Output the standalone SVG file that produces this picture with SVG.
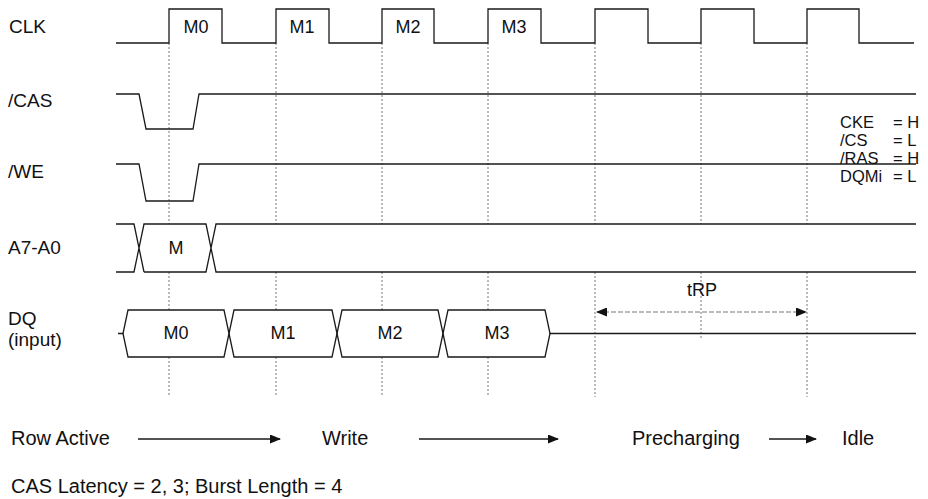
<svg xmlns="http://www.w3.org/2000/svg" width="928" height="499" viewBox="0 0 928 499">
<style>
text{font-family:"Liberation Sans",Arial,Helvetica,sans-serif;fill:#111;}
.lbl{font-size:19px;}
.in{font-size:18px;text-anchor:middle;}
.cond{font-size:16.5px;}
.bot{font-size:20px;}
.w{fill:none;stroke:#1a1a1a;stroke-width:1.3;stroke-linejoin:miter;}
.g{fill:none;stroke:#777;stroke-width:1;stroke-dasharray:2,2;}
.arr{fill:none;stroke:#1a1a1a;stroke-width:1.6;}
.tarr{fill:none;stroke:#777;stroke-width:1.2;stroke-dasharray:5,2;}
</style>
<defs>
<marker id="ah" markerWidth="11" markerHeight="9" refX="10" refY="4.5" orient="auto" markerUnits="userSpaceOnUse">
<path d="M0,0 L11,4.5 L0,9 Z" fill="#111"/>
</marker>
<marker id="ahs" markerWidth="11" markerHeight="9" refX="1" refY="4.5" orient="auto" markerUnits="userSpaceOnUse">
<path d="M11,0 L0,4.5 L11,9 Z" fill="#111"/>
</marker>
</defs>
<rect width="928" height="499" fill="#fff"/>

<g id="guides">
<path class="g" d="M169,43V224M169,272V310M169,357V397"/>
<path class="g" d="M276,43V224M276,272V310M276,357V397"/>
<path class="g" d="M382,43V224M382,272V310M382,357V397"/>
<path class="g" d="M488,43V224M488,272V310M488,357V397"/>
<path class="g" d="M595,43V224M595,272V397"/>
<path class="g" d="M701,43V224M701,272V340"/>
<path class="g" d="M807,43V224M807,272V397"/>
</g>

<g id="clk">
<text class="lbl" x="9" y="33">CLK</text>
<path class="w" d="M116,43H169V9H222V43H276V9H329V43H382V9H434V43H488V9H541V43H595V9H648V43H701V9H754V43H807V9H859V43H914"/>
<text class="in" x="196" y="33">M0</text>
<text class="in" x="302" y="33">M1</text>
<text class="in" x="408" y="33">M2</text>
<text class="in" x="514" y="33">M3</text>
</g>

<g id="cas">
<text class="lbl" x="8" y="107">/CAS</text>
<path class="w" d="M116,94H139L146,129H193L199,94H916"/>
</g>

<g id="we">
<text class="lbl" x="8" y="178">/WE</text>
<path class="w" d="M116,164H139L146,201H193L199,164H916"/>
</g>

<g id="addr">
<text class="lbl" x="8" y="254">A7-A0</text>
<path class="w" d="M116,224H134L144,272M116,272H134L144,224H206L216,272H916M144,272H206L216,224H916"/>
<text class="in" x="176" y="254">M</text>
</g>

<g id="dq">
<text class="lbl" x="8" y="325">DQ</text>
<text class="lbl" x="8" y="346">(input)</text>
<path class="w" d="M118,333.5H123L128,310H224L234,357H332L342,310H438L448,357H545L550,333.5H916"/>
<path class="w" d="M123,333.5L128,357H224L234,310H332L342,357H438L448,310H545L550,333.5"/>
<text class="in" x="176" y="339">M0</text>
<text class="in" x="283" y="339">M1</text>
<text class="in" x="390" y="339">M2</text>
<text class="in" x="497" y="339">M3</text>
</g>

<g id="conditions">
<text class="cond" x="840" y="128">CKE</text><text class="cond" x="893" y="128">= H</text>
<text class="cond" x="840" y="146">/CS</text><text class="cond" x="893" y="146">= L</text>
<text class="cond" x="840" y="164">/RAS</text><text class="cond" x="893" y="164">= H</text>
<text class="cond" x="840" y="182">DQMi</text><text class="cond" x="893" y="182">= L</text>
</g>

<g id="trp">
<text class="in" x="702" y="296">tRP</text>
</g>

<g id="states">
<text class="bot" x="11" y="445">Row Active</text>
<text class="bot" x="322" y="445">Write</text>
<text class="bot" x="632" y="445">Precharging</text>
<text class="bot" x="842" y="445">Idle</text>
<text class="bot" x="11" y="493">CAS Latency = 2, 3; Burst Length = 4</text>
</g>

<g id="connectors">
<line class="tarr" x1="597" y1="312" x2="806" y2="312" marker-start="url(#ahs)" marker-end="url(#ah)"/>
<line class="arr" x1="138" y1="439" x2="280" y2="439" marker-end="url(#ah)"/>
<line class="arr" x1="419" y1="439" x2="558" y2="439" marker-end="url(#ah)"/>
<line class="arr" x1="769" y1="439" x2="816" y2="439" marker-end="url(#ah)"/>
</g>
</svg>
